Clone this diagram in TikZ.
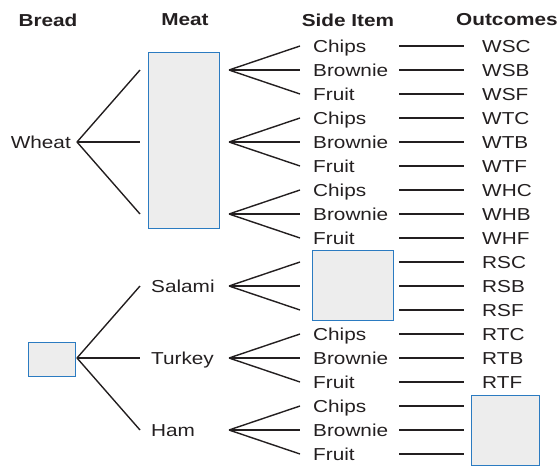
\documentclass[tikz,border=0pt]{standalone}
\usepackage{fontspec}
\setmainfont[FakeStretch=1.2]{Liberation Sans}
\usetikzlibrary{positioning}
\definecolor{boxblue}{RGB}{43,123,193}
\definecolor{boxgray}{RGB}{237,237,237}
\definecolor{ink}{RGB}{35,31,32}

\begin{document}
\begin{tikzpicture}[
  x=1pt, y=-1pt,
  font=\fontsize{17.3}{20}\selectfont, text=ink,
  head/.style={font=\fontsize{17.3}{20}\selectfont\bfseries, inner sep=0pt},
  item/.style={anchor=base west, inner sep=0pt},
  branch/.style={draw=ink, line width=1.4pt},
  blank/.style={draw=boxblue, fill=boxgray, line width=1pt, inner sep=0pt}
]
\useasboundingbox (0,0) rectangle (560,466);

% column heads
\node[head] (hbread) at (48,20) {Bread};
\node[head] (hmeat) at (185,20) {Meat};
\node[head] (hside) at (348,20) {Side Item};
\node[head] (hout) at (507,20) {Outcomes};

% bread
\node[item, anchor=base east] (wheat) at (71,148) {Wheat};
\node[blank, minimum width=47, minimum height=34] (breadbox) at (51.5,359) {};
\coordinate (wheatfork) at (77,142);
\coordinate (breadfork) at (77,358);

% meat
\node[blank, minimum width=71, minimum height=176] (meatbox) at (183.5,140) {};
\node[item] (salami) at (151,292) {Salami};
\node[item] (turkey) at (151,364) {Turkey};
\node[item] (ham) at (151,436) {Ham};
\foreach \g in {1,...,6} {
  \coordinate (m\g) at (140,-2+72*\g);
  \coordinate (f\g) at (229,-2+72*\g);
}
\foreach \g in {1,2,3} \draw[branch] (wheatfork) -- (m\g);
\foreach \g in {4,5,6} \draw[branch] (breadfork) -- (m\g);

% side items
\node[blank, minimum width=81, minimum height=70] (sidebox) at (352.5,285) {};
\foreach \i/\s in {1/Chips,2/Brownie,3/Fruit,4/Chips,5/Brownie,6/Fruit,
  7/Chips,8/Brownie,9/Fruit,13/Chips,14/Brownie,15/Fruit,
  16/Chips,17/Brownie,18/Fruit}
  \node[item] (s\i) at (313,28+24*\i) {\s};
\foreach \i in {1,...,18} {
  \pgfmathtruncatemacro{\g}{int((\i+2)/3)}
  \coordinate (e\i) at (300,22+24*\i);
  \draw[branch] (f\g) -- (e\i);
}

% outcomes
\node[blank, minimum width=68, minimum height=70] (outbox) at (505,430) {};
\foreach \i/\s in {1/WSC,2/WSB,3/WSF,4/WTC,5/WTB,6/WTF,7/WHC,8/WHB,9/WHF,
  10/RSC,11/RSB,12/RSF,13/RTC,14/RTB,15/RTF}
  \node[item] (o\i) at (482,28+24*\i) {\s};
\foreach \i in {1,...,18} {
  \coordinate (a\i) at (399,22+24*\i);
  \coordinate (b\i) at (464,22+24*\i);
  \draw[branch] (a\i) -- (b\i);
}
\end{tikzpicture}
\end{document}
